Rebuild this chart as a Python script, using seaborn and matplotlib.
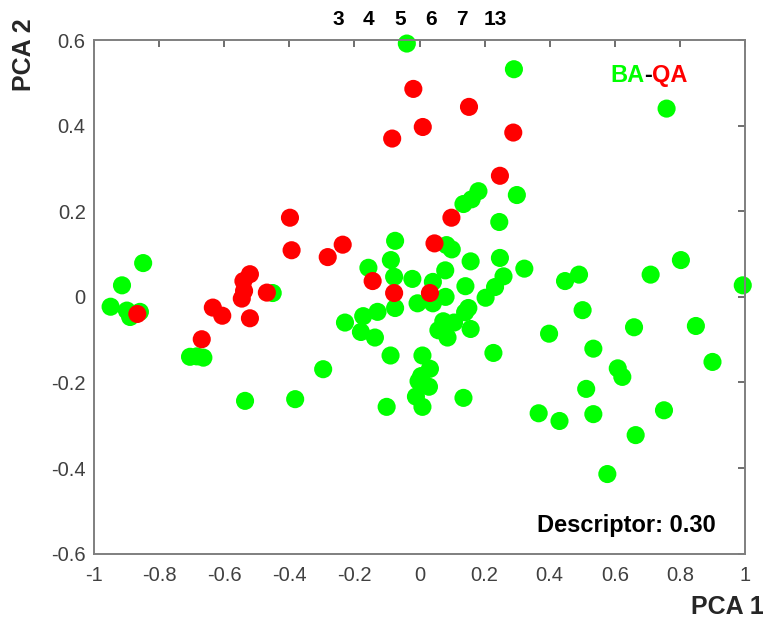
import pandas as pd
import matplotlib
matplotlib.use('Agg')
import matplotlib.pyplot as plt
import seaborn as sns

# PCA scores
ba_x = [-0.039, 0.290, 0.759, 0.181, 0.160, 0.135, 0.299, 0.245, -0.075, 0.083,
        0.099, 0.157, 0.247, 0.322, -0.088, -0.157, -0.078, -0.022, 0.079, 0.258,
        0.141, 0.041, 0.232, 0.203, 0.150, 0.080, -0.006, 0.041, -0.075, -0.129,
        -0.173, -0.229, -0.180, -0.137, 0.073, 0.106, 0.058, 0.086, 0.157, 0.227,
        -0.089, 0.009, 0.032, 0.005, -0.003, 0.029, -0.011, 0.009, 0.135, -0.101,
        -0.296, 0.366, 0.430, 0.534, 0.751, 0.664, 0.577, 0.512, 0.609, 0.623,
        0.900, 0.534, 0.398, 0.659, 0.849, 0.501, 0.447, 0.490, 0.710, 0.803,
        0.993, -0.849, -0.914, -0.949, -0.899, -0.889, -0.859, -0.451, -0.705, -0.684,
        -0.664, -0.536, -0.382, 0.140]
ba_y = [0.592, 0.532, 0.440, 0.247, 0.228, 0.217, 0.238, 0.175, 0.131, 0.121,
        0.111, 0.083, 0.091, 0.066, 0.086, 0.068, 0.047, 0.042, 0.062, 0.048,
        0.025, 0.035, 0.023, -0.002, -0.026, 0.000, -0.015, -0.015, -0.026, -0.035,
        -0.045, -0.060, -0.082, -0.095, -0.057, -0.060, -0.078, -0.095, -0.075, -0.131,
        -0.137, -0.137, -0.168, -0.185, -0.197, -0.210, -0.233, -0.257, -0.236, -0.257,
        -0.169, -0.272, -0.290, -0.274, -0.265, -0.323, -0.414, -0.215, -0.167, -0.187,
        -0.152, -0.121, -0.086, -0.071, -0.068, -0.031, 0.037, 0.052, 0.052, 0.086,
        0.027, 0.079, 0.027, -0.023, -0.032, -0.047, -0.035, 0.009, -0.140, -0.139,
        -0.142, -0.243, -0.239, -0.036]

qa_x = [-0.019, 0.152, 0.010, 0.288, -0.084, 0.247, 0.098, 0.046, -0.398, -0.393,
        -0.236, -0.282, -0.144, -0.078, 0.032, -0.521, -0.541, -0.539, -0.546, -0.469,
        -0.635, -0.606, -0.521, -0.669, -0.867]
qa_y = [0.486, 0.444, 0.397, 0.384, 0.370, 0.283, 0.185, 0.125, 0.185, 0.109,
        0.122, 0.093, 0.037, 0.009, 0.009, 0.053, 0.037, 0.014, -0.004, 0.010,
        -0.025, -0.044, -0.050, -0.099, -0.040]

top_labels = ['3', '4', '5', '6', '7', '13']
top_label_x = [-0.25, -0.158, -0.06, 0.035, 0.13, 0.232]

x_ticks = [-1, -0.8, -0.6, -0.4, -0.2, 0, 0.2, 0.4, 0.6, 0.8, 1]
y_ticks = [-0.6, -0.4, -0.2, 0, 0.2, 0.4, 0.6]

df = pd.DataFrame({
    'PCA 1': ba_x + qa_x,
    'PCA 2': ba_y + qa_y,
    'group': ['BA'] * len(ba_x) + ['QA'] * len(qa_x),
})

sns.set_style('white')
plt.rcParams['font.family'] = ['Liberation Sans', 'DejaVu Sans']

fig = plt.figure(figsize=(7.68, 6.27), dpi=100)
ax = fig.add_axes([0.1224, 0.117, 0.8477, 0.819])

# green first, red drawn on top (row order)
sns.scatterplot(data=df, x='PCA 1', y='PCA 2', hue='group',
                palette={'BA': '#00ff00', 'QA': '#ff0000'},
                s=170, linewidth=0, alpha=1, legend=False, clip_on=False, ax=ax)

ax.set_xlim(-1, 1)
ax.set_ylim(-0.6, 0.6)
ax.set_xticks(x_ticks)
ax.set_yticks(y_ticks)
ax.set_xticklabels([f'{v:g}' for v in x_ticks])
ax.set_yticklabels([f'{v:g}' for v in y_ticks])
ax.set_xlabel('')
ax.set_ylabel('')

for sp in ax.spines.values():
    sp.set_visible(True)
    sp.set_color('#7f7f7f')
    sp.set_linewidth(1.4)
ax.tick_params(direction='in', length=5, width=1.2, color='#555555',
               top=True, right=True, labelsize=14.5, labelcolor='#404040')
ax.tick_params(axis='x', pad=9)
ax.tick_params(axis='y', pad=6)

# labels on top of the plot
for lab, xv in zip(top_labels, top_label_x):
    ax.text(xv, 1.04, lab, transform=ax.get_xaxis_transform(),
            ha='center', va='center', fontsize=15, fontweight='bold', color='black')

# two-colour legend text
t1 = ax.text(0.793, 0.932, 'BA', transform=ax.transAxes, ha='left', va='center',
             fontsize=17, fontweight='bold', color='#00ff00')
t2 = ax.annotate('-', xy=(1, 0), xycoords=t1, ha='left', va='bottom',
                 fontsize=17, fontweight='bold', color='black')
ax.annotate('QA', xy=(1, 0), xycoords=t2, ha='left', va='bottom',
            fontsize=17, fontweight='bold', color='#ff0000')

ax.text(0.955, 0.055, 'Descriptor: 0.30', transform=ax.transAxes,
        ha='right', va='center', fontsize=17, fontweight='bold', color='black')

fig.text(0.031, 0.912, 'PCA 2', rotation=90, ha='center', va='center',
         fontsize=18, fontweight='bold')
fig.text(0.947, 0.032, 'PCA 1', ha='center', va='center',
         fontsize=18, fontweight='bold')

plt.savefig('out.png', dpi=100)
